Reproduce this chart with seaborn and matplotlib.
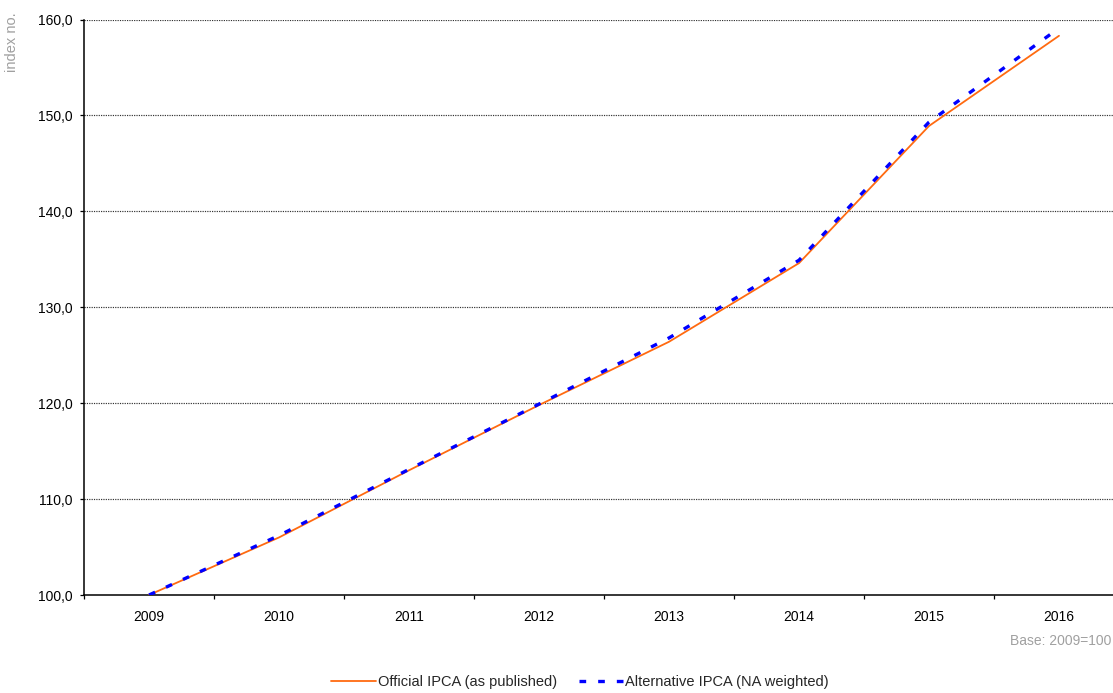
import numpy as np
import pandas as pd
import matplotlib
matplotlib.use("Agg")
import matplotlib.pyplot as plt
from matplotlib.ticker import FixedLocator, FuncFormatter
import seaborn as sns

years = [2009, 2010, 2011, 2012, 2013, 2014, 2015, 2016]
official = [100.0, 106.0, 113.0, 119.8, 126.4, 134.6, 148.9, 158.3]
alternative = [100.0, 106.2, 113.1, 119.9, 126.8, 134.9, 149.3, 159.1]
series_names = ["Official IPCA (as published)", "Alternative IPCA (NA weighted)"]
y_ticks = [100, 110, 120, 130, 140, 150, 160]

df = pd.DataFrame({
    "year": years * 2,
    "value": official + alternative,
    "series": [series_names[0]] * len(years) + [series_names[1]] * len(years),
})

sns.set_theme(style="white")
plt.rcParams["font.family"] = ["Liberation Sans", "DejaVu Sans"]

W, H = 1113, 693
fig = plt.figure(figsize=(W / 100, H / 100), dpi=100)
# plot area: left edge at 84 px, 130 px per year, runs past the right border
ax = fig.add_axes([84 / W, (H - 595) / H, 1040 / W, 575.5 / H])

palette = {series_names[0]: "#FF6A10", series_names[1]: "#0000FF"}
sns.lineplot(data=df, x="year", y="value", hue="series", palette=palette,
             ax=ax, legend=False, sort=False)

dash = (0, (2.0, 3.6))
orange_line, blue_line = ax.lines[0], ax.lines[1]
orange_line.set_linewidth(1.3)
orange_line.set_zorder(3)
blue_line.set_linewidth(2.4)
blue_line.set_linestyle(dash)
blue_line.set_dash_capstyle("butt")
blue_line.set_zorder(4)

ax.set_xlim(years[0] - 0.5, years[-1] + 0.5)
ax.set_ylim(y_ticks[0], y_ticks[-1])

# year labels sit at category centres; tick marks at category borders
ax.xaxis.set_major_locator(FixedLocator(years))
ax.xaxis.set_minor_locator(FixedLocator([y - 0.5 for y in years] + [years[-1] + 0.5]))
ax.tick_params(axis="x", which="major", length=0, pad=10.5, labelsize=10, colors="#000000")
ax.tick_params(axis="x", which="minor", length=3.2, width=0.9, color="#000000",
               direction="out", bottom=True)
ax.set_yticks(y_ticks)
ax.yaxis.set_major_formatter(FuncFormatter(lambda v, p: f"{v:.1f}".replace(".", ",")))
ax.tick_params(axis="y", which="major", length=3.2, width=0.9, pad=5, labelsize=10,
               colors="#000000", direction="out", left=True)

ax.set_xlabel("")
ax.set_ylabel("")

for y in y_ticks[1:]:
    ax.axhline(y, color="#303030", linewidth=0.85, linestyle=(0, (1, 1)), zorder=1)

for side in ("top", "right"):
    ax.spines[side].set_visible(False)
for side in ("left", "bottom"):
    ax.spines[side].set_color("#000000")
    ax.spines[side].set_linewidth(1.1)

fig.text(12 / W, 1 - 42 / H, "index no.", rotation=90, ha="center", va="center",
         fontsize=10.5, color="#a0a0a0")
fig.text(1111 / W, 1 - 641 / H, "Base: 2009=100", ha="right", va="center",
         fontsize=10, color="#a0a0a0")

handles = [
    plt.Line2D([], [], color=palette[series_names[0]], linewidth=1.3),
    plt.Line2D([], [], color=palette[series_names[1]], linewidth=2.4,
               linestyle=dash, dash_capstyle="butt"),
]
fig.legend(handles, series_names, loc="center", bbox_to_anchor=(580 / W, 1 - 682 / H),
           ncol=2, frameon=False, fontsize=10.5, handlelength=3.1, handletextpad=0.1,
           columnspacing=1.5, borderaxespad=0)

fig.savefig("out.png", dpi=100)
